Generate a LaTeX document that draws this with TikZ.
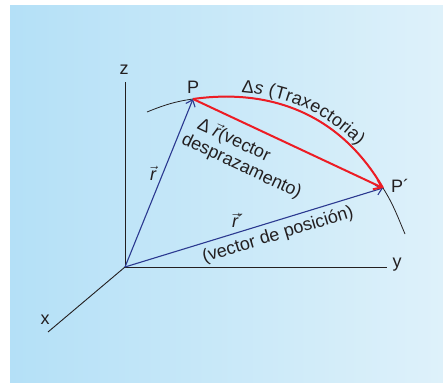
\documentclass[tikz,border=0pt]{standalone}
\usepackage{fontspec}
\setmainfont{Liberation Sans}
\usetikzlibrary{arrows.meta,decorations.text}
\definecolor{fondoA}{RGB}{180,224,247}
\definecolor{fondoB}{RGB}{222,241,250}
\definecolor{azul}{RGB}{43,57,144}
\definecolor{vermello}{RGB}{237,28,36}
\definecolor{tinta}{RGB}{35,31,32}
\newcommand{\fsz}{\fontsize{18}{20}\selectfont}
\newcommand{\vecr}{$\vec{\textit{r}}$}
\begin{document}
\begin{tikzpicture}[x=1pt, y=1pt, font=\fsz, text=tinta,
  eixo/.style={draw=tinta, line width=0.9pt},
  traxe/.style={draw=tinta, line width=0.8pt},
  vpos/.style={draw=azul, line width=1.1pt, -{Straight Barb[length=6pt,width=10pt]}},
  vdesp/.style={draw=vermello, line width=2pt, -{Straight Barb[length=7pt,width=11pt]}}]
  \useasboundingbox (0,0) rectangle (443,382);
  \shade[left color=fondoA, right color=fondoB] (10,0) rectangle (443,376);
  % eixos
  \coordinate (O) at (125,115);
  \coordinate (zf) at (125,300);
  \coordinate (yf) at (387,115);
  \coordinate (xf) at (48,50);
  \draw[eixo] (O) -- (zf);
  \draw[eixo] (O) -- (yf);
  \draw[eixo] (O) -- (xf);
  \node (z) at (124,312) {z};
  \node (y) at (397,117) {y};
  \node (x) at (45,62) {x};
  % traxectoria
  \coordinate (A) at (147,270);
  \coordinate (P) at (193,283);
  \coordinate (P2) at (383,194);
  \coordinate (B) at (405,148);
  \draw[traxe] (A) to[out=22,in=188] (P) to[out=8,in=120] (P2) to[out=-58,in=113] (B);
  \draw[vermello, line width=2pt] (P) to[out=8,in=120] (P2);
  \path[decorate, decoration={text along path,
    text={|\fsz\color{tinta}|Δ|\fsz\itshape\color{tinta}|s|\fsz\color{tinta}| (Traxectoria)},
    raise=5pt, text align={left indent=48pt}}] (P) to[out=8,in=120] (P2);
  \node (lP) at (193,295) {P};
  \node (lP2) at (400,196) {P´};
  % vectores
  \draw[vpos] (O) -- (P);
  \draw[vpos] (O) -- (P2);
  \draw[vdesp] (P) -- (P2);
  \node (lr) at (153,209) {\vecr};
  \node (lr2) at (238,162) {\vecr´};
  \node[rotate=17] (lpos) at (278,147) {(vector de posición)};
  \node[rotate=-25, align=left] (ldesp) at (246,225) {\hspace{8pt}Δ \vecr(vector\\desprazamento)};
\end{tikzpicture}
\end{document}
